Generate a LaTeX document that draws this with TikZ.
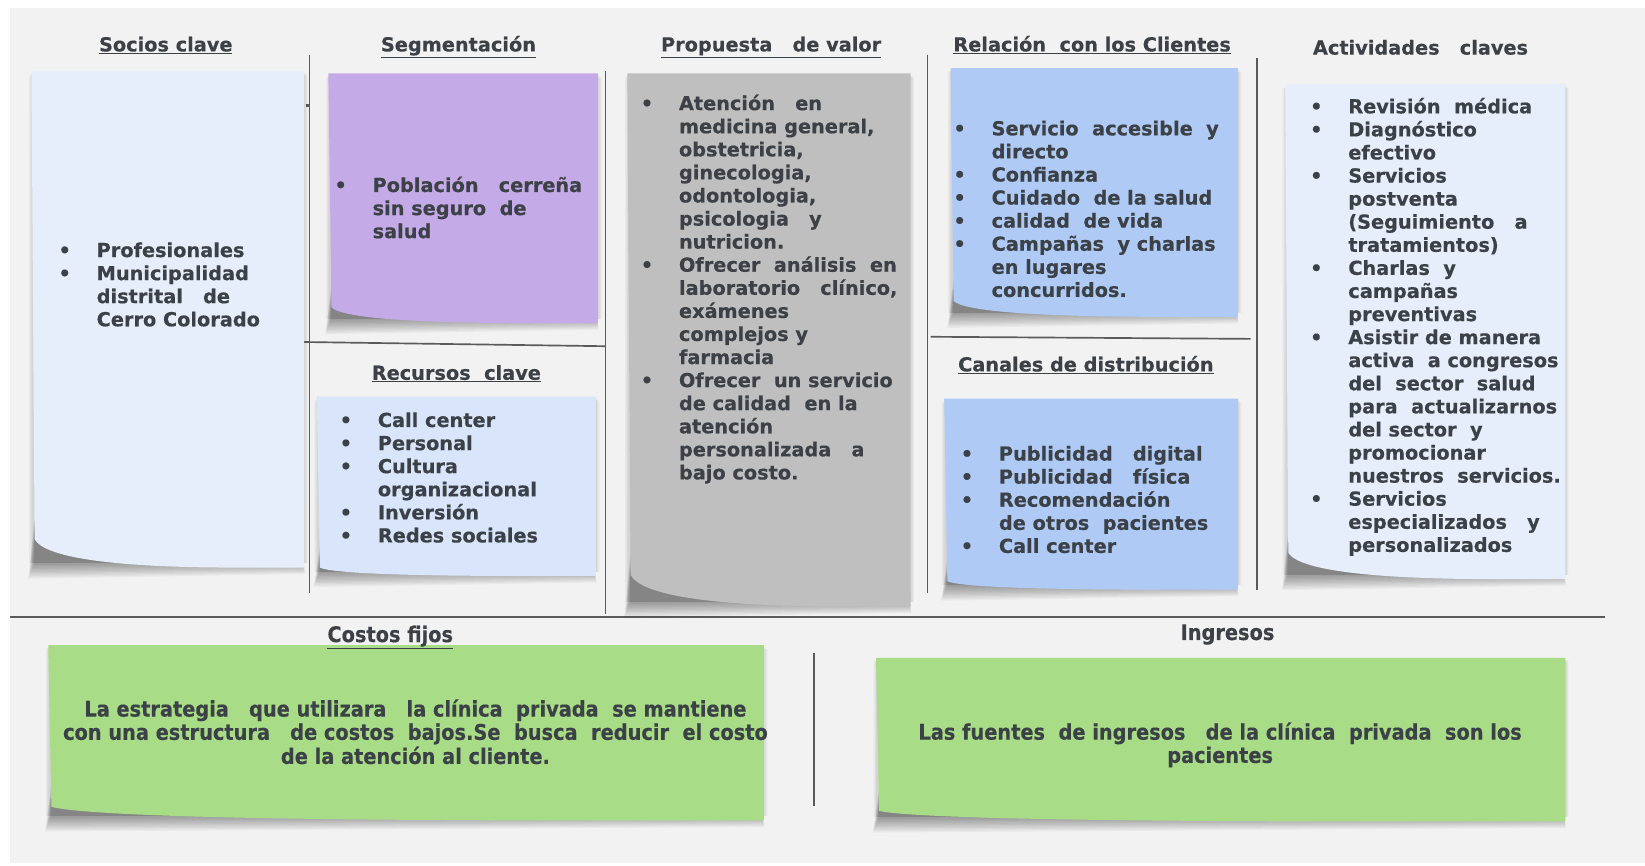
\documentclass[tikz,border=0pt]{standalone}
\usepackage{fontspec}
\setmainfont{DejaVu Sans}[BoldFeatures={FakeBold=0.4}]
\newfontfamily\condfont{DejaVu Sans Condensed}[BoldFeatures={FakeBold=0.4}]
\definecolor{bg}{HTML}{F2F2F2}
\definecolor{ink}{HTML}{3B4146}
\definecolor{ruleclr}{HTML}{5A5A5A}
\definecolor{paleblue}{HTML}{E6EEFB}
\definecolor{softblue}{HTML}{D8E5FA}
\definecolor{midblue}{HTML}{AFCBF5}
\definecolor{lilac}{HTML}{C4AAE6}
\definecolor{greynote}{HTML}{BFBFBF}
\definecolor{greennote}{HTML}{A8DC87}
\newcommand\bl{\llap{\textbullet\hspace{24.6pt}}}
\newcommand\stickynote[6]{%
  % soft side shadow
  \foreach \i in {1,...,6}{
    \fill[black,opacity=0.02] ({#1+1-0.6*\i},{#2+1+0.5*\i}) rectangle ({#3+0.6*\i},{#4-4});
  }
  % bottom shadow, darker under the curl
  \foreach \i in {1,...,12}{
    \fill[black,opacity=0.036] ({#1+3},{#4-#5-4-1.5*\i}) -- ({#3-3},{#4-#5-4-1.5*\i})
      -- ({#3-3+0.3*\i},{#4-7+1.1*\i}) -- ({#1+3-0.5*\i},{#4-5+1.3*\i}) -- cycle;
  }
  \fill[#6] (#1,#2) -- (#3,#2) -- (#3,#4) -- ({#1+0.75*(#3-#1)},#4)
    .. controls ({#1+0.3*(#3-#1)},#4) and ({#1+0.05*(#3-#1)},{#4-0.35*#5}) .. ({#1+3},{#4-#5}) -- cycle;
}
\tikzset{
  bodytext/.style={font=\fontsize{18.4}{22}\selectfont\bfseries, text=ink, inner sep=0pt, anchor=base west},
  headtext/.style={font=\fontsize{18.4}{22}\selectfont\bfseries, text=ink, inner sep=0pt, anchor=base},
  condhead/.style={font=\condfont\fontsize{20.5}{22}\selectfont\bfseries, text=ink, inner sep=0pt, anchor=base},
  ruleline/.style={draw=ruleclr, line width=1.6pt},
}
\begin{document}
\begin{tikzpicture}[x=1pt,y=-1pt]
\useasboundingbox (0,0) rectangle (1568,825);
\fill[white] (0,0) rectangle (1568,825);
\fill[bg] (10,8) rectangle (1568,823);

% separators
\draw[ruleline] (10,588) -- (1530,588);
\draw[ruleline] (295,52) -- (295,565);
\draw[ruleline] (577,68) -- (577,585);
\draw[ruleline] (884,52) -- (884,565);
\draw[ruleline] (1198,55) -- (1198,562);
\draw[ruleline] (290,326) -- (577,330);
\draw[ruleline] (887,321) -- (1192,323);
\draw[ruleline] (776,622) -- (776,768);
\fill[ruleclr] (292,99) rectangle (295,102);

% sticky notes
\stickynote{30}{68}{290}{541}{27}{paleblue}
\stickynote{313}{70}{570}{308}{15}{lilac}
\stickynote{302}{378}{568}{549}{8}{softblue}
\stickynote{598}{70}{868}{578}{30}{greynote}
\stickynote{906}{65}{1180}{302}{15}{midblue}
\stickynote{900}{380}{1180}{562}{8}{midblue}
\stickynote{1225}{80}{1492}{552}{25}{paleblue}
\stickynote{46}{615}{728}{782}{13}{greennote}
\stickynote{835}{627}{1492}{783}{10}{greennote}

% titles
\node[headtext] (tsocios) at (158,49) {\underline{Socios clave}};
\node[headtext] (tseg) at (437,49) {\underline{Segmentación}};
\node[headtext] (tprop) at (735,49) {\underline{Propuesta~~~de valor}};
\node[headtext] (trel) at (1041,49) {\underline{Relación~~con los Clientes}};
\node[headtext] (tact) at (1354,52) {Actividades~~~claves};
\node[headtext] (trec) at (435,362) {\underline{Recursos~~clave}};
\node[headtext] (tcan) at (1035,354) {\underline{Canales de distribución}};
\node[condhead] (tcost) at (372,612) {\underline{Costos fijos}};
\node[condhead] (ting) at (1170,610) {Ingresos};

% lists
\node[bodytext] (lsocios) at (92,245) {\begin{tabular}[t]{@{}l@{}}
\bl Profesionales\\
\bl Municipalidad\\
distrital~~~de\\
Cerro Colorado
\end{tabular}};

\node[bodytext] (lseg) at (355,183) {\begin{tabular}[t]{@{}l@{}}
\bl Población~~~cerreña\\
sin seguro~~de\\
salud
\end{tabular}};

\node[bodytext] (lrec) at (360,407) {\begin{tabular}[t]{@{}l@{}}
\bl Call center\\
\bl Personal\\
\bl Cultura\\
organizacional\\
\bl Inversión\\
\bl Redes sociales
\end{tabular}};

\node[bodytext] (lprop) at (647,105) {\begin{tabular}[t]{@{}l@{}}
\bl Atención~~~en\\
medicina general,\\
obstetricia,\\
ginecologia,\\
odontologia,\\
psicologia~~~y\\
nutricion.\\
\bl Ofrecer~~análisis~~en\\
laboratorio~~~clínico,\\
exámenes\\
complejos y\\
farmacia\\
\bl Ofrecer~~un servicio\\
de calidad~~en la\\
atención\\
personalizada~~~a\\
bajo costo.
\end{tabular}};

\node[bodytext] (lrel) at (945,129) {\begin{tabular}[t]{@{}l@{}}
\bl Servicio~~accesible~~y\\
directo\\
\bl Confianza\\
\bl Cuidado~~de la salud\\
\bl calidad~~de vida\\
\bl Campañas~~y charlas\\
en lugares\\
concurridos.
\end{tabular}};

\node[bodytext] (lcan) at (952,439) {\begin{tabular}[t]{@{}l@{}}
\bl Publicidad~~~digital\\
\bl Publicidad~~~física\\
\bl Recomendación\\
de otros~~pacientes\\
\bl Call center
\end{tabular}};

\node[bodytext] (lact) at (1285,108) {\begin{tabular}[t]{@{}l@{}}
\bl Revisión~~médica\\
\bl Diagnóstico\\
efectivo\\
\bl Servicios\\
postventa\\
(Seguimiento~~~a\\
tratamientos)\\
\bl Charlas~~y\\
campañas\\
preventivas\\
\bl Asistir de manera\\
activa~~a congresos\\
del~~sector~~salud\\
para~~actualizarnos\\
del sector~~y\\
promocionar\\
nuestros~~servicios.\\
\bl Servicios\\
especializados~~~y\\
personalizados
\end{tabular}};

\node[condhead] (lcost) at (396,683) {\begin{tabular}[t]{@{}c@{}}
La estrategia~~~que utilizara~~~la clínica~~privada~~se mantiene\\
con una estructura~~~de costos~~bajos.Se~~busca~~reducir~~el costo\\
de la atención al cliente.
\end{tabular}};

\node[condhead] (ling) at (1163,705) {\begin{tabular}[t]{@{}c@{}}
Las fuentes~~de ingresos~~~de la clínica~~privada~~son los\\
pacientes
\end{tabular}};
\end{tikzpicture}
\end{document}
